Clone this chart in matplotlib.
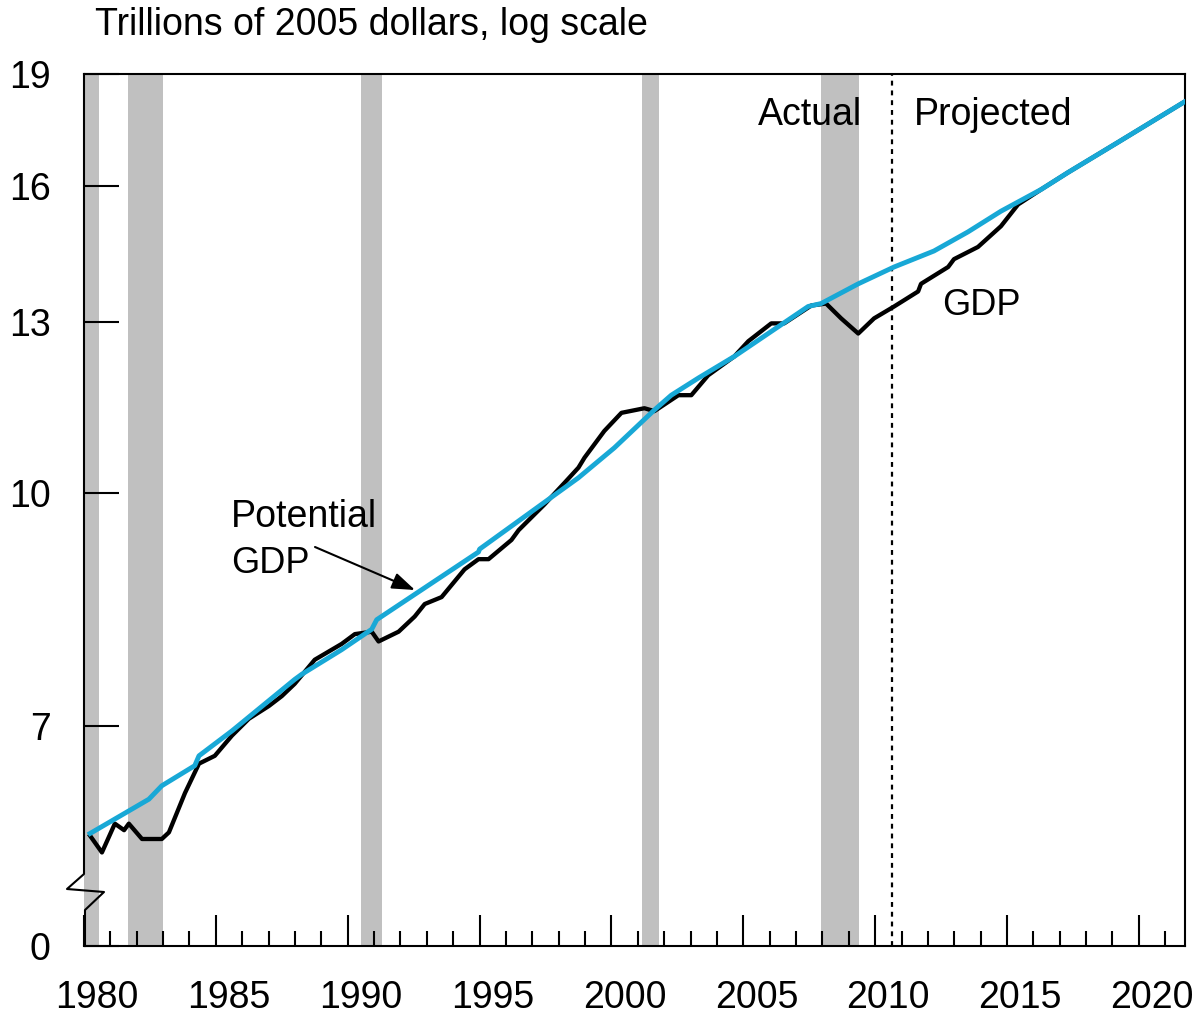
import numpy as np
import matplotlib
matplotlib.use('Agg')
import matplotlib.pyplot as plt
from matplotlib.lines import Line2D

plt.rcParams['font.family'] = ['Liberation Sans', 'DejaVu Sans']

W, H = 1194, 1018

# values (trillions of 2005 dollars)
pot_year = [1980.23, 1982.46, 1982.95, 1984.20, 1984.36, 1985.61, 1987.99, 1988.26,
            1989.77, 1990.91, 1991.10, 1994.96, 1995.00, 1998.75, 2000.11, 2001.63,
            2002.27, 2003.30, 2004.66, 2007.46, 2007.95, 2009.36, 2010.72, 2012.23,
            2013.52, 2014.77, 2016.29, 2017.31, 2019.20, 2021.78]
pot_val = [5.94, 6.26, 6.39, 6.59, 6.69, 6.95, 7.52, 7.58,
           7.87, 8.12, 8.24, 9.14, 9.18, 10.24, 10.72, 11.36,
           11.62, 11.93, 12.33, 13.31, 13.37, 13.78, 14.14, 14.49,
           14.92, 15.40, 15.92, 16.34, 17.11, 18.23]

gdp_year = [1980.23, 1980.68, 1981.17, 1981.52, 1981.70, 1982.20, 1982.95, 1983.22,
            1983.83, 1984.36, 1984.96, 1985.61, 1986.25, 1987.01, 1987.50, 1987.99,
            1988.75, 1989.77, 1990.27, 1990.91, 1991.17, 1991.93, 1992.54, 1992.92,
            1993.56, 1994.43, 1994.96, 1995.34, 1996.21, 1996.48, 1997.46, 1998.22,
            1998.75, 1998.98, 1999.73, 2000.38, 2001.25, 2001.63, 2002.54, 2003.03,
            2003.67, 2004.66, 2005.19, 2006.06, 2006.55, 2007.58, 2008.14, 2008.71,
            2009.36, 2009.96, 2010.72, 2011.63, 2011.74, 2012.77, 2012.99, 2013.90,
            2014.77, 2015.42, 2016.29, 2017.31, 2019.20, 2021.78]
gdp_val = [5.92, 5.77, 6.03, 5.97, 6.03, 5.89, 5.89, 5.95,
           6.32, 6.61, 6.69, 6.90, 7.08, 7.22, 7.33, 7.47,
           7.75, 7.94, 8.06, 8.09, 7.97, 8.09, 8.28, 8.44,
           8.53, 8.90, 9.04, 9.04, 9.31, 9.45, 9.83, 10.16,
           10.40, 10.56, 11.00, 11.31, 11.39, 11.34, 11.62, 11.62,
           11.98, 12.33, 12.62, 12.97, 12.97, 13.33, 13.37, 13.07,
           12.77, 13.07, 13.31, 13.62, 13.78, 14.14, 14.31, 14.58,
           15.05, 15.56, 15.92, 16.34, 17.11, 18.23]

recession_start = [1980.0, 1981.67, 1990.49, 2001.16, 2007.95]
recession_end = [1980.58, 1983.0, 1991.29, 2001.82, 2009.39]
projection_start = 2010.64

ytick_vals = [5.0, 7, 10, 13, 16, 19]
ytick_labels = ['0', '7', '10', '13', '16', '19']
label_years = list(range(1980, 2021, 5))

blue = '#18A8D6'
gray = '#C0C0C0'


def fpx(x, y):
    # pixel position (from top-left) -> figure fraction
    return x / W, 1 - y / H


fig = plt.figure(figsize=(W / 100, H / 100), dpi=100)
ax = fig.add_axes([84 / W, 1 - 946 / H, (1185 - 84) / W, (946 - 74) / H])

for s, e in zip(recession_start, recession_end):
    ax.axvspan(s, e, color=gray, lw=0, zorder=0)

ax.axvline(projection_start, color='black', lw=1.6, ls=(0, (2.2, 2.2)), zorder=1)

ax.plot(gdp_year, gdp_val, color='black', lw=3.1, solid_joinstyle='round', zorder=2)
ax.plot(pot_year, pot_val, color=blue, lw=3.5, solid_joinstyle='round', zorder=3)

ax.set_yscale('log')
ax.set_ylim(5.0, 19)
ax.set_xlim(1980, 2021.75)
ax.set_yticks(ytick_vals)
ax.set_yticklabels(ytick_labels)
ax.yaxis.set_minor_locator(matplotlib.ticker.NullLocator())
ax.tick_params(axis='y', direction='in', length=25, width=1.5, pad=24, labelsize=27)

ax.set_xticks(np.arange(1980, 2021, 5))
ax.set_xticks(np.arange(1980, 2022, 1), minor=True)
ax.tick_params(axis='x', which='major', direction='in', length=22, width=1.5, labelbottom=False)
ax.tick_params(axis='x', which='minor', direction='in', length=11, width=1.5)

for yr in label_years:
    ax.text(yr + 0.5, -0.06, str(yr), transform=ax.get_xaxis_transform(),
            ha='center', va='center', fontsize=27)

for side in ['top', 'right', 'bottom']:
    ax.spines[side].set_linewidth(1.5)
ax.spines['left'].set_visible(False)

# left spine with the axis break
pts = [fpx(84, 74), fpx(84, 874), fpx(67, 889), fpx(104, 892), fpx(85, 910), fpx(85, 946)]
fig.add_artist(Line2D([p[0] for p in pts], [p[1] for p in pts], color='black', lw=1.5,
                      transform=fig.transFigure))

fig.text(*fpx(95, 35), 'Trillions of 2005 dollars, log scale', fontsize=27, va='baseline')
fig.text(*fpx(862, 125), 'Actual', fontsize=27, ha='right', va='baseline')
fig.text(*fpx(914, 125), 'Projected', fontsize=27, va='baseline')
fig.text(*fpx(942, 315), 'GDP', fontsize=26, va='baseline')
fig.text(*fpx(231, 527), 'Potential', fontsize=27, va='baseline')
fig.text(*fpx(231, 573), 'GDP', fontsize=26, va='baseline')

ax.annotate('', xy=fpx(415, 590), xycoords='figure fraction',
            xytext=fpx(315, 547), textcoords='figure fraction',
            arrowprops=dict(arrowstyle='-|>,head_length=0.7,head_width=0.25',
                            color='black', lw=1.5, mutation_scale=20,
                            shrinkA=0, shrinkB=0))

fig.savefig('out.png', dpi=100)
